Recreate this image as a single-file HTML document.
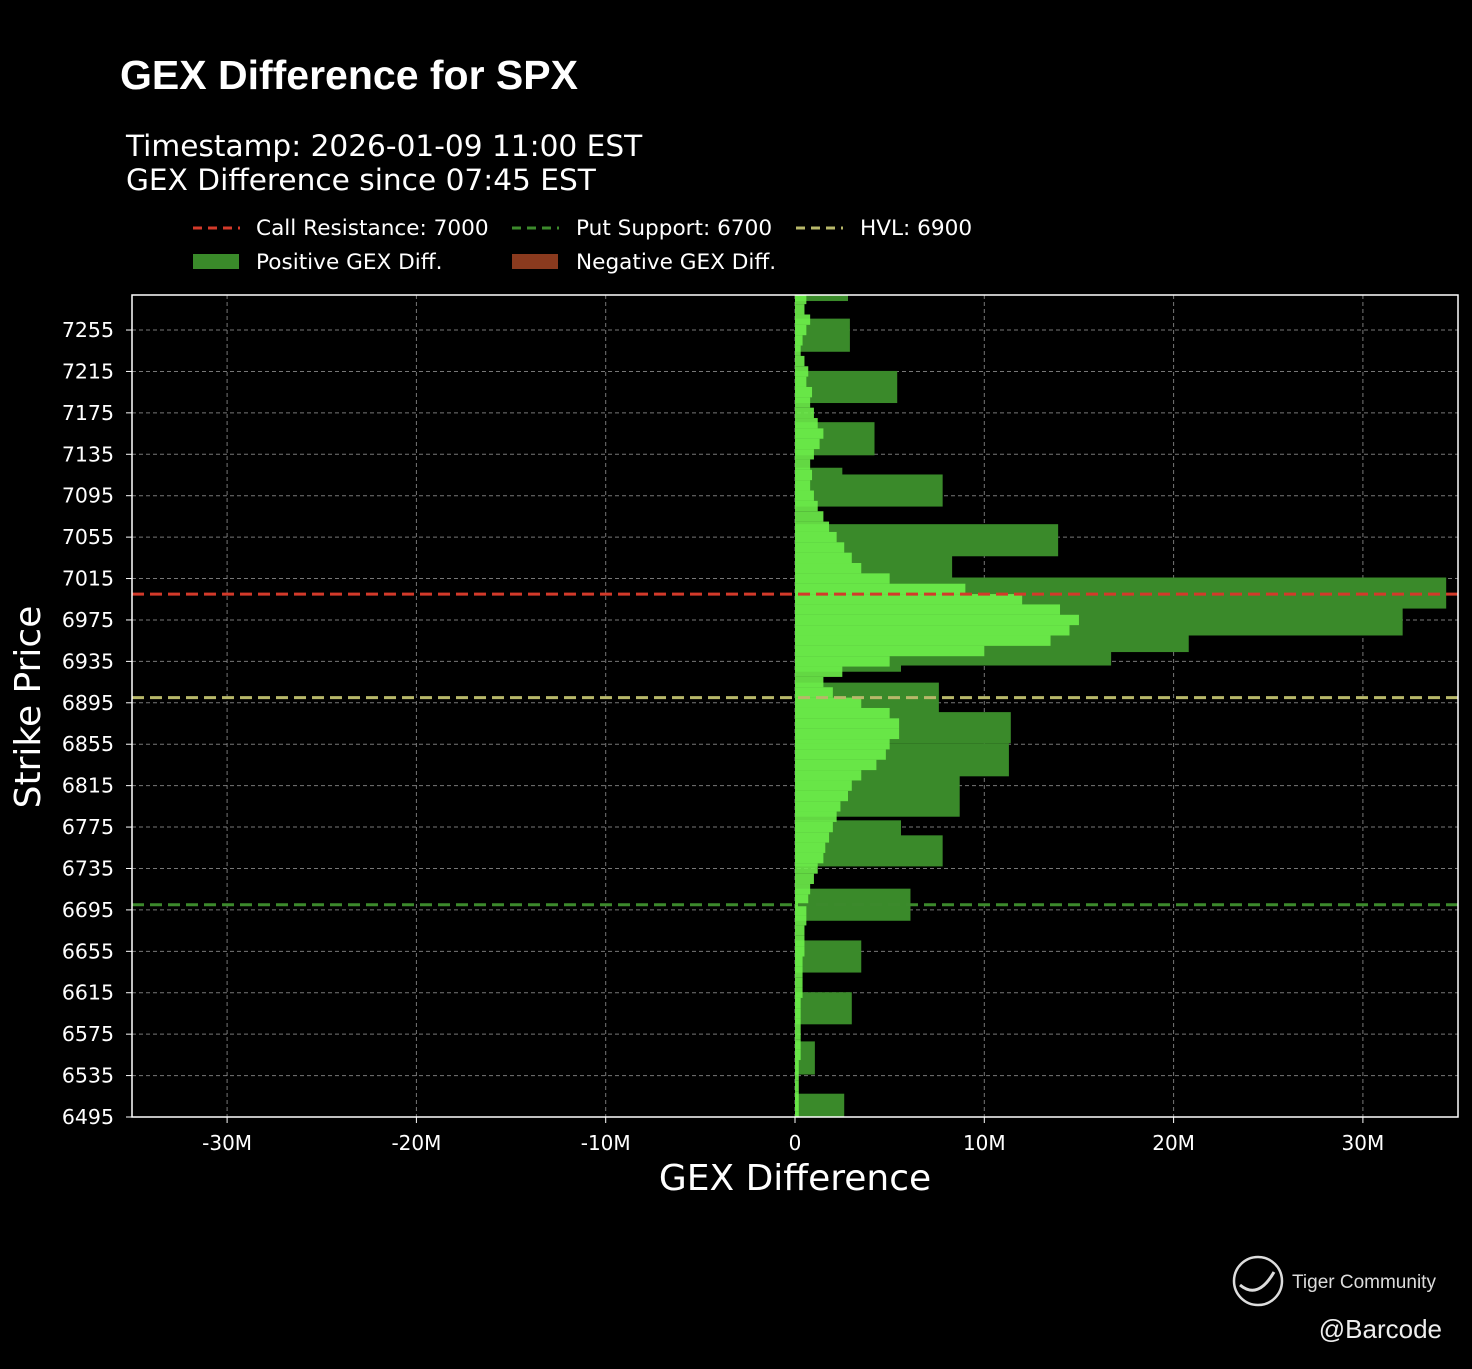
<!DOCTYPE html>
<html><head><meta charset="utf-8"><style>
body{margin:0;background:#000;width:1472px;height:1364px;overflow:hidden;font-family:"Liberation Sans","DejaVu Sans",sans-serif;}
svg text{font-family:"DejaVu Sans","Liberation Sans",sans-serif;}
</style></head><body>
<svg id="c" width="1472" height="1364" viewBox="0 0 1472 1364">
<text x="120" y="89" fill="#fff" font-size="41" font-weight="bold" style="font-family:'Liberation Sans',sans-serif">GEX Difference for SPX</text>
<text x="126" y="156" fill="#fff" font-size="29.6">Timestamp: 2026-01-09 11:00 EST</text>
<text x="126" y="190" fill="#fff" font-size="29.6">GEX Difference since 07:45 EST</text>
<g font-size="21.6" fill="#fff">
<line x1="193" y1="228" x2="240" y2="228" stroke="#d33a2a" stroke-width="3" stroke-dasharray="9,6"/>
<text x="256" y="235">Call Resistance: 7000</text>
<line x1="512" y1="228" x2="559" y2="228" stroke="#3c8a2c" stroke-width="3" stroke-dasharray="9,6"/>
<text x="576" y="235">Put Support: 6700</text>
<line x1="796" y1="228" x2="843" y2="228" stroke="#b8b86a" stroke-width="3" stroke-dasharray="9,6"/>
<text x="860" y="235">HVL: 6900</text>
<rect x="193" y="254" width="46" height="15" fill="#3a8a2a"/>
<text x="256" y="269">Positive GEX Diff.</text>
<rect x="512" y="254" width="46" height="15" fill="#8a3a1e"/>
<text x="576" y="269">Negative GEX Diff.</text>
</g>
<g id="grid"></g><g id="bars"></g><g id="lines"></g><g id="axes"></g>
<rect x="132" y="295" width="1326" height="822" fill="none" stroke="#fff" stroke-width="1.5"/>
<text x="40" y="707" fill="#fff" font-size="36" text-anchor="middle" transform="rotate(-90 40 707)">Strike Price</text>
<text x="795" y="1190" fill="#fff" font-size="36" text-anchor="middle">GEX Difference</text>
<g>
<circle cx="1258" cy="1281" r="24" fill="none" stroke="#ddd" stroke-width="2.5"/>
<path d="M1240 1285 Q1258 1300 1274 1272" fill="none" stroke="#ddd" stroke-width="3"/>
<text x="1292" y="1288" fill="#ddd" font-size="19" style="font-family:'Liberation Sans',sans-serif">Tiger Community</text>
<text x="1442" y="1338" fill="#eee" font-size="26" text-anchor="end" style="font-family:'Liberation Sans',sans-serif">@Barcode</text>
</g>
</svg>
<script>
const xTicks=[-30,-20,-10,0,10,20,30];
const xTickLabels=["-30M","-20M","-10M","0","10M","20M","30M"];
const yTicks=[6495,6535,6575,6615,6655,6695,6735,6775,6815,6855,6895,6935,6975,7015,7055,7095,7135,7175,7215,7255];
const darkStrikes=[7286,7250,7200,7150,7112,7100,7052,7024,7001,6976,6963,6950,6930,6900,6871,6840,6805,6766,6752,6700,6650,6600,6552,6506];
const darkWidths=[6,32,31,32,20,31,31,26,30,32,38,38,10,29,30,32,40,31,30,31,31,31,32,23];
const darkValues=[2.8,2.9,5.4,4.2,2.5,7.8,13.9,8.3,34.4,32.1,20.8,16.7,5.6,7.6,11.4,11.3,8.7,5.6,7.8,6.1,3.5,3.0,1.05,2.6];
const lightStrikes=[7285,7275,7265,7255,7245,7235,7225,7215,7205,7195,7185,7175,7165,7155,7145,7135,7125,7115,7105,7095,7085,7075,7065,7055,7045,7035,7025,7015,7005,6995,6985,6975,6965,6955,6945,6935,6925,6915,6905,6895,6885,6875,6865,6855,6845,6835,6825,6815,6805,6795,6785,6775,6765,6755,6745,6735,6725,6715,6705,6695,6685,6675,6665,6655,6645,6635,6625,6615,6605,6595,6585,6575,6565,6555,6545,6535,6525,6515,6505,6495];
const lightValues=[0.6,0.5,0.8,0.6,0.4,0.3,0.5,0.7,0.6,0.9,0.8,1.0,1.2,1.5,1.3,1.0,0.8,0.9,0.8,1.0,1.2,1.5,1.8,2.2,2.6,3.0,3.5,5,9,12,14,15,14.5,13.5,10,5,2.5,1.5,2,3.5,5,5.5,5.5,5,4.8,4.3,3.5,3,2.8,2.4,2.2,2,1.8,1.6,1.5,1.2,1.0,0.8,0.7,0.6,0.6,0.5,0.5,0.5,0.4,0.4,0.4,0.4,0.3,0.3,0.3,0.3,0.3,0.3,0.2,0.2,0.2,0.2,0.2,0.2];
const hLineValues=[7000,6900,6700];
const hLineColors=["#d33a2a","#b8b86a","#3c8a2c"];
const hLineNames=["call-resistance-line","hvl-line","put-support-line"];
const L=132,R=1458,T=295,B=1117;
const X=v=>795+v*18.93;
const Y=s=>1117-(s-6495)*1.0355;
const NS="http://www.w3.org/2000/svg";
function mk(tag,parent,attrs){const e=document.createElementNS(NS,tag);for(const k in attrs)e.setAttribute(k,attrs[k]);document.getElementById(parent).appendChild(e);return e;}
xTicks.forEach((t,i)=>{
 const g=mk('line','grid',{x1:X(t),x2:X(t),y1:T,y2:B,stroke:'#aaa','stroke-width':1,'stroke-dasharray':'4,3',opacity:0.7});
 
 
 const tk=mk('line','axes',{x1:X(t),x2:X(t),y1:B,y2:B+6,stroke:'#fff'});
 
 
 const tx=mk('text','axes',{x:X(t),y:B+33,fill:'#fff','font-size':20,'text-anchor':'middle'});
 tx.textContent=xTickLabels[i];
 
 
});
yTicks.forEach(t=>{
 const g=mk('line','grid',{x1:L,x2:R,y1:Y(t),y2:Y(t),stroke:'#aaa','stroke-width':1,'stroke-dasharray':'4,3',opacity:0.7});
 
 
 const tk=mk('line','axes',{x1:L-6,x2:L,y1:Y(t),y2:Y(t),stroke:'#fff'});
 
 
 const tx=mk('text','axes',{x:L-18,y:Y(t)+7,fill:'#fff','font-size':20.5,'text-anchor':'end'});
 tx.textContent=t;
 
 
});
darkStrikes.forEach((s,i)=>{
 const w=darkWidths[i]*1.0355;
 let y=Y(s)-w/2; let h=w; if(y<T){h-=T-y;y=T;}
 const r=mk('rect','bars',{x:X(0),y:y,width:X(darkValues[i])-X(0),height:h,fill:'#3a8a2a'});
 
 
});
lightStrikes.forEach((s,i)=>{
 const h=10*1.0355;
 let y=Y(s)-h/2, hh=h; if(y<T){hh-=T-y;y=T;} if(y+hh>B)hh=B-y;
 const r=mk('rect','bars',{x:X(0),y:y,width:X(lightValues[i])-X(0),height:hh,fill:'#6ef04a',opacity:0.9});
 
 
});
hLineValues.forEach((v,i)=>{
 const l=mk('line','lines',{x1:L,x2:R,y1:Y(v),y2:Y(v),stroke:hLineColors[i],'stroke-width':3,'stroke-dasharray':'12,6'});
 
 
});
</script>
</body></html>
